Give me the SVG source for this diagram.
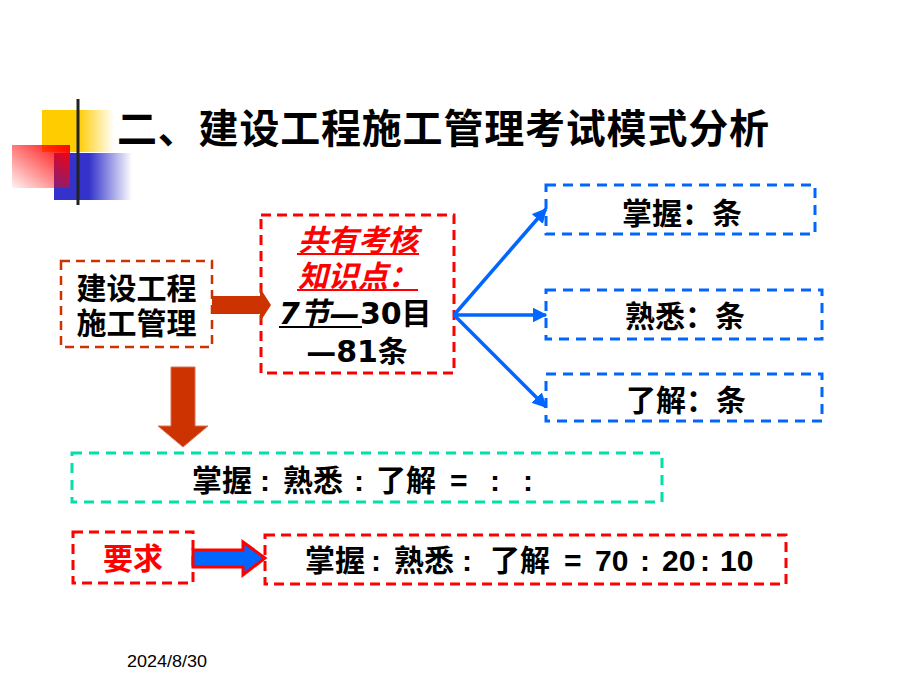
<svg xmlns="http://www.w3.org/2000/svg" width="920" height="690" viewBox="0 0 920 690">
<defs>
<linearGradient id="gYel" x1="0" y1="0" x2="1" y2="0">
<stop offset="0" stop-color="#FFCC00"/><stop offset="0.5" stop-color="#FFCC00"/><stop offset="1" stop-color="#FFCC00" stop-opacity="0"/>
</linearGradient>
<linearGradient id="gBlu" x1="0" y1="0" x2="1" y2="0">
<stop offset="0" stop-color="#3333CC"/><stop offset="0.45" stop-color="#3333CC"/><stop offset="1" stop-color="#3333CC" stop-opacity="0"/>
</linearGradient>
<linearGradient id="gRed" x1="1" y1="0" x2="0" y2="1">
<stop offset="0" stop-color="#FF0000"/><stop offset="1" stop-color="#FF0000" stop-opacity="0.05"/>
</linearGradient>
<linearGradient id="gLine" x1="0" y1="0" x2="1" y2="0">
<stop offset="0" stop-color="#222222"/><stop offset="0.45" stop-color="#777777"/><stop offset="1" stop-color="#FFFFFF"/>
</linearGradient>
<marker id="ah" viewBox="0 0 10 10" refX="9" refY="5" markerWidth="4.2" markerHeight="4.2" orient="auto" markerUnits="strokeWidth">
<path d="M0,0 L10,5 L0,10 z" fill="#0066FF"/>
</marker>
<style>
.t{font-family:"Noto Sans CJK SC","Noto Sans",sans-serif;font-weight:bold;fill:#000}
.d{font-family:"DejaVu Sans","Noto Sans CJK SC",sans-serif;font-weight:bold}
.l{font-family:"Liberation Sans","Noto Sans CJK SC",sans-serif;font-weight:bold;fill:#000}
.bx{fill:none;stroke-width:3;stroke-dasharray:10 6}
.brown{stroke:#CC3300;stroke-width:2.5;stroke-dasharray:9 6}
.red{stroke:#FF0000}
.blue{stroke:#0066FF;stroke-dasharray:10 7}
.green{stroke:#00E0A8;stroke-dasharray:10 7}
.conn{stroke:#0066FF;stroke-width:3.5;fill:none}
</style>
</defs>
<rect width="920" height="690" fill="#FFFFFF"/>

<g id="logo">
<rect x="42" y="110" width="72" height="42" fill="url(#gYel)"/>
<rect x="54" y="153" width="78" height="47" fill="url(#gBlu)"/>
<rect x="12" y="145" width="58" height="43" fill="url(#gRed)"/>
<line x1="78" y1="99" x2="78" y2="205" stroke="#222" stroke-width="3"/>
<line x1="44" y1="181" x2="870" y2="181" stroke="url(#gLine)" stroke-width="3"/>
</g>

<g id="title">
<text class="t" x="117" y="143" font-size="40" textLength="652" lengthAdjust="spacing">二、建设工程施工管理考试模式分析</text>
</g>

<g id="n-course">
<rect class="bx brown" x="61" y="261" width="151" height="86"/>
<text class="t" x="136.5" y="299" font-size="30" text-anchor="middle">建设工程</text>
<text class="t" x="136.5" y="334" font-size="30" text-anchor="middle">施工管理</text>
</g>

<g id="n-total">
<rect class="bx red" x="261" y="215" width="193" height="158"/>
<text class="t" x="358" y="251" font-size="30" text-anchor="middle" font-style="italic" style="fill:#FF0000">共有考核</text>
<line x1="297" y1="254" x2="419" y2="254" stroke="#FF0000" stroke-width="2"/>
<text class="t" x="358" y="287" font-size="30" text-anchor="middle" font-style="italic" style="fill:#FF0000">知识点：</text>
<line x1="297" y1="290" x2="418" y2="290" stroke="#FF0000" stroke-width="2"/>
<text class="d" x="279" y="324" font-size="30"><tspan font-style="italic">7节—</tspan>30目</text>
<line x1="279" y1="327" x2="362" y2="327" stroke="#000" stroke-width="2"/>
<text class="d" x="357" y="362" font-size="30" text-anchor="middle">—81条</text>
</g>

<g id="n-master">
<rect class="bx blue" x="546" y="185" width="269" height="49"/>
<text class="t" x="682" y="224" font-size="30" text-anchor="middle">掌握：条</text>
</g>
<g id="n-familiar">
<rect class="bx blue" x="546" y="290" width="276" height="49"/>
<text class="t" x="685" y="327" font-size="30" text-anchor="middle">熟悉：条</text>
</g>
<g id="n-understand">
<rect class="bx blue" x="546" y="374" width="276" height="47"/>
<text class="t" x="686" y="411" font-size="30" text-anchor="middle">了解：条</text>
</g>

<g id="n-ratio">
<rect class="bx green" x="72" y="453" width="590" height="49"/>
<text class="l" y="491" font-size="30"><tspan x="192">掌握</tspan><tspan x="260">:</tspan><tspan x="283">熟悉</tspan><tspan x="354">:</tspan><tspan x="376">了解</tspan><tspan x="450">=</tspan><tspan x="490">:</tspan><tspan x="523">:</tspan></text>
</g>

<g id="n-require">
<rect class="bx red" x="73" y="532" width="120" height="51"/>
<text class="t" x="133" y="569" font-size="30" text-anchor="middle" style="fill:#FF0000">要求</text>
</g>

<g id="n-target">
<rect class="bx red" x="265" y="535" width="521" height="49"/>
<text class="l" y="571" font-size="30"><tspan x="305">掌握</tspan><tspan x="371">:</tspan><tspan x="394">熟悉</tspan><tspan x="462">:</tspan><tspan x="490">了解</tspan><tspan x="564">=</tspan><tspan x="595">70</tspan><tspan x="640">:</tspan><tspan x="662">20</tspan><tspan x="700">:</tspan><tspan x="720">10</tspan></text>
</g>

<g id="connectors">
<polygon points="212,296 260,296 260,288 271,305 260,322 260,314 212,314" fill="#CC3300"/>
<polygon points="171,367 195,367 195,426 208,426 183,447 158,426 171,426" fill="#CC3300" stroke="#D9735A" stroke-width="1"/>
<polygon points="193,550 243,550 243,542 265,558 243,575 243,567 193,567" fill="#0066FF" stroke="#FF0000" stroke-width="3" stroke-linejoin="miter"/>
<line class="conn" x1="454" y1="315" x2="546" y2="209" marker-end="url(#ah)"/>
<line class="conn" x1="454" y1="315" x2="546" y2="315" marker-end="url(#ah)"/>
<line class="conn" x1="454" y1="315" x2="546" y2="407" marker-end="url(#ah)"/>
</g>

<g id="footer">
<text x="127" y="667" font-family="Liberation Sans, sans-serif" font-size="17" textLength="80" lengthAdjust="spacingAndGlyphs" fill="#000">2024/8/30</text>
</g>
</svg>
